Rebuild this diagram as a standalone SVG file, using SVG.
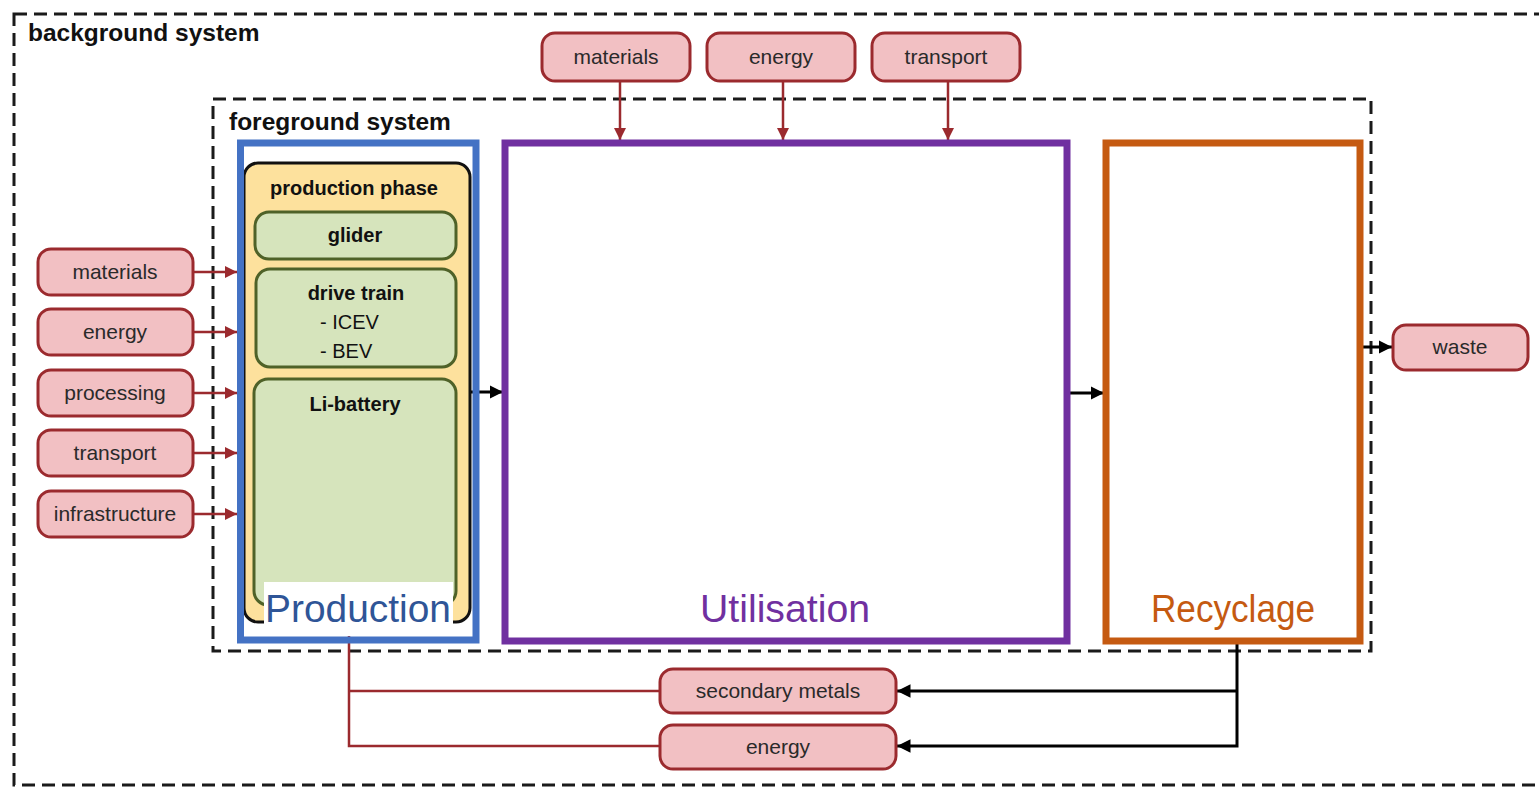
<svg xmlns="http://www.w3.org/2000/svg" width="1539" height="788" viewBox="0 0 1539 788">
<defs>
<style>
.bg{fill:#ffffff}
.dash{fill:none;stroke:#1a1a1a;stroke-width:3;stroke-dasharray:13 7}
.hd{font-family:"Liberation Sans",Arial,sans-serif;font-weight:bold;fill:#111;font-size:24.5px}
.pk{fill:#F2C0C3;stroke:#9B2A2E;stroke-width:3}
.pt{font-family:"Liberation Sans",Arial,sans-serif;font-size:21px;fill:#2a2a2a;text-anchor:middle}
.gr{fill:#D6E4BC;stroke:#4F6228;stroke-width:3}
.gt{font-family:"Liberation Sans",Arial,sans-serif;font-size:20px;fill:#111;font-weight:bold;text-anchor:middle}
.rt{font-family:"Liberation Sans",Arial,sans-serif;font-size:20px;fill:#111}
.big{font-family:"Liberation Sans",Arial,sans-serif;font-size:38px;text-anchor:middle}
.red{fill:none;stroke:#9B2A2E;stroke-width:2.5}
.blk{fill:none;stroke:#000;stroke-width:3}
</style>
<marker id="ar" viewBox="0 0 10 10" refX="10" refY="5" markerWidth="5" markerHeight="5" markerUnits="strokeWidth" orient="auto">
<path d="M0,0 L10,5 L0,10 z" fill="#9B2A2E"/>
</marker>
<marker id="ab" viewBox="0 0 10 10" refX="10" refY="5" markerWidth="4.5" markerHeight="4.5" markerUnits="strokeWidth" orient="auto">
<path d="M0,0 L10,5 L0,10 z" fill="#000"/>
</marker>
</defs>
<rect class="bg" x="0" y="0" width="1539" height="788"/>

<g id="background-system">
<rect class="dash" x="14" y="14" width="1545" height="771"/>
<text class="hd" x="28" y="41">background system</text>
</g>
<g id="foreground-system">
<rect class="dash" x="213" y="99" width="1158" height="552"/>
<text class="hd" x="229" y="130">foreground system</text>
</g>

<g id="connectors">
<path class="red" d="M193,272 H237" marker-end="url(#ar)"/>
<path class="red" d="M193,332 H237" marker-end="url(#ar)"/>
<path class="red" d="M193,393 H237" marker-end="url(#ar)"/>
<path class="red" d="M193,453 H237" marker-end="url(#ar)"/>
<path class="red" d="M193,514 H237" marker-end="url(#ar)"/>
<path class="red" d="M620,81 V140" marker-end="url(#ar)"/>
<path class="red" d="M783,81 V140" marker-end="url(#ar)"/>
<path class="red" d="M948,81 V140" marker-end="url(#ar)"/>
<path class="blk" d="M470,392 H503" marker-end="url(#ab)"/>
<path class="blk" d="M1067,393 H1104" marker-end="url(#ab)"/>
<path class="blk" d="M1363,347 H1392" marker-end="url(#ab)"/>
<path class="blk" d="M1237,643 V746 H897" marker-end="url(#ab)"/>
<path class="blk" d="M1237,691 H897" marker-end="url(#ab)"/>
<path class="red" d="M660,691 H349"/>
<path class="red" d="M660,746 H349 V636"/>
<path d="M344,637 L354,637 L349,642 z" fill="#9B2A2E"/>
</g>

<g id="production">
<rect x="244" y="163" width="226" height="459" rx="14" fill="#FDE19D" stroke="#111" stroke-width="3"/>
<text class="gt" x="354" y="195">production phase</text>
<g id="glider">
<rect class="gr" x="255" y="212" width="201" height="47" rx="14"/>
<text class="gt" x="355" y="242">glider</text>
</g>
<g id="drive-train">
<rect class="gr" x="256" y="269" width="200" height="98" rx="14"/>
<text class="gt" x="356" y="300">drive train</text>
<text class="rt" x="320" y="329">- ICEV</text>
<text class="rt" x="320" y="358">- BEV</text>
</g>
<g id="li-battery">
<rect class="gr" x="254" y="379" width="202" height="226" rx="14"/>
<text class="gt" x="355" y="411">Li-battery</text>
</g>
<rect x="264" y="582" width="189" height="42" fill="#fff"/>
<text class="big" x="358" y="622" fill="#2F5597" textLength="186" lengthAdjust="spacingAndGlyphs">Production</text>
<rect x="240.5" y="143" width="235.5" height="497" fill="none" stroke="#4472C4" stroke-width="7"/>
</g>

<g id="utilisation">
<rect x="505" y="143" width="562" height="498" fill="none" stroke="#7030A0" stroke-width="7"/>
<text class="big" x="785" y="622" fill="#7030A0" textLength="170" lengthAdjust="spacingAndGlyphs">Utilisation</text>
</g>

<g id="recyclage">
<rect x="1106" y="143" width="254" height="498" fill="none" stroke="#C55A11" stroke-width="7"/>
<text class="big" x="1233" y="622" fill="#C55A11" textLength="164" lengthAdjust="spacingAndGlyphs">Recyclage</text>
</g>

<g id="in-materials"><rect class="pk" x="38" y="249" width="155" height="46" rx="13"/><text class="pt" x="115" y="279">materials</text></g>
<g id="in-energy"><rect class="pk" x="38" y="309" width="155" height="46" rx="13"/><text class="pt" x="115" y="339">energy</text></g>
<g id="in-processing"><rect class="pk" x="38" y="370" width="155" height="46" rx="13"/><text class="pt" x="115" y="400">processing</text></g>
<g id="in-transport"><rect class="pk" x="38" y="430" width="155" height="46" rx="13"/><text class="pt" x="115" y="460">transport</text></g>
<g id="in-infrastructure"><rect class="pk" x="38" y="491" width="155" height="46" rx="13"/><text class="pt" x="115" y="521">infrastructure</text></g>

<g id="top-materials"><rect class="pk" x="542" y="33" width="148" height="48" rx="13"/><text class="pt" x="616" y="64">materials</text></g>
<g id="top-energy"><rect class="pk" x="707" y="33" width="148" height="48" rx="13"/><text class="pt" x="781" y="64">energy</text></g>
<g id="top-transport"><rect class="pk" x="872" y="33" width="148" height="48" rx="13"/><text class="pt" x="946" y="64">transport</text></g>

<g id="waste"><rect class="pk" x="1393" y="325" width="135" height="45" rx="13"/><text class="pt" x="1460" y="354">waste</text></g>

<g id="secondary-metals"><rect class="pk" x="660" y="669" width="236" height="44" rx="13"/><text class="pt" x="778" y="698">secondary metals</text></g>
<g id="bottom-energy"><rect class="pk" x="660" y="725" width="236" height="44" rx="13"/><text class="pt" x="778" y="754">energy</text></g>
</svg>
